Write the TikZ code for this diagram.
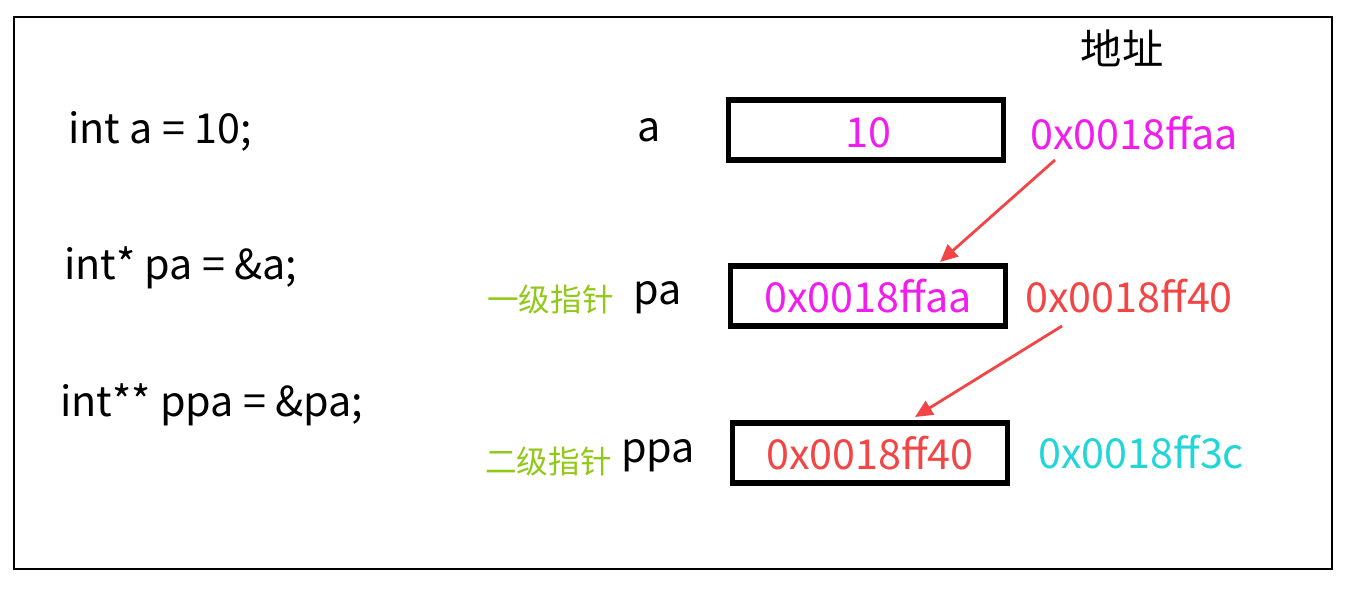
\documentclass[tikz,border=0pt]{standalone}
\usepackage{fontspec}
\setmainfont{Noto Sans CJK SC}
\usetikzlibrary{arrows.meta}
\definecolor{mag}{HTML}{F01CF0}
\definecolor{rd}{HTML}{F24545}
\definecolor{cy}{HTML}{22D6D8}
\definecolor{gr}{HTML}{92C81A}
\tikzset{
  px/.style={x=0.02cm,y=-0.02cm},
  cell/.style={draw=black,line width=3.2pt,minimum width=5.5cm,minimum height=1.2cm,inner sep=0pt},
  big/.style={font=\fontsize{23.5}{26}\selectfont,inner sep=0pt},
  small/.style={font=\fontsize{18}{20}\selectfont,inner sep=0pt,text=gr},
  ptr/.style={draw=rd,line width=1.6pt,-{Triangle[length=10pt,width=9pt]}}
}
\begin{document}
\begin{tikzpicture}[px]
\useasboundingbox (0,0) rectangle (1354,590);
\draw[line width=0.6pt] (14,17) rectangle (1332,569);
\node[big,anchor=west] (c1) at (68,131) {int a = 10;};
\node[big,anchor=west] (c2) at (64,268) {int* pa = \&a;};
\node[big,anchor=west] (c3) at (60,405) {int** ppa = \&pa;};
\node[big] (hdr) at (1122,48) {地址};
\node[cell] (ba) at (866,130) {};
\node[cell] (bpa) at (868,296) {};
\node[cell] (bppa) at (870,453) {};
\node[big,text=mag] (va) at (868,133) {10};
\node[big,text=mag] (vpa) at (868,296) {0x0018ffaa};
\node[big,text=rd] (vppa) at (870,453) {0x0018ff40};
\node[big] (na) at (649,130) {a};
\node[big,anchor=west] (npa) at (633,298) {pa};
\node[small,anchor=east] (g1) at (614,300) {一级指针};
\node[big,anchor=west] (nppa) at (621,456) {ppa};
\node[small,anchor=east] (g2) at (612,461) {二级指针};
\node[big,text=mag,anchor=west] (ada) at (1030,133) {0x0018ffaa};
\node[big,text=rd,anchor=west] (adpa) at (1025,296) {0x0018ff40};
\node[big,text=cy,anchor=west] (adppa) at (1038,452) {0x0018ff3c};
\coordinate (s1) at (1055,160); \coordinate (e1) at (940,262);
\coordinate (s2) at (1062,326); \coordinate (e2) at (915,417);
\draw[ptr] (s1) -- (e1);
\draw[ptr] (s2) -- (e2);
\end{tikzpicture}
\end{document}
